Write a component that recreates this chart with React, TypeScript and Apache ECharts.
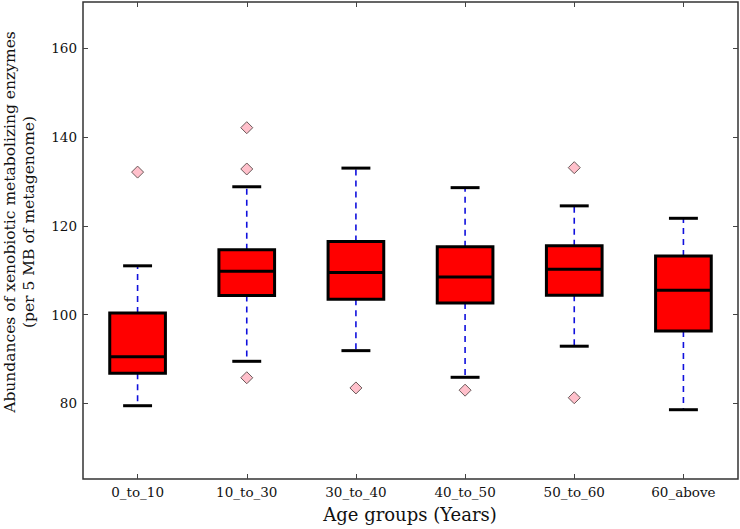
import React, { useEffect, useRef } from "react";
import * as echarts from "echarts";

const categories = ["0_to_10", "10_to_30", "30_to_40", "40_to_50", "50_to_60", "60_above"];
const lowerWhisker = [79.5, 89.5, 91.9, 85.9, 92.9, 78.6];
const q1 = [86.8, 104.3, 103.5, 102.6, 104.4, 96.3];
const median = [90.5, 109.8, 109.5, 108.5, 110.2, 105.5];
const q3 = [100.4, 114.6, 116.5, 115.3, 115.5, 113.2];
const upperWhisker = [111.0, 128.8, 133.0, 128.6, 124.5, 121.7];
const outlierGroup = [0, 1, 1, 1, 2, 3, 4, 4];
const outlierValue = [132.1, 142.1, 132.8, 85.8, 83.5, 83.0, 133.1, 81.3];
const yTicks = [80, 100, 120, 140, 160];
const yMin = 63;
const yMax = 170.4;

const FONT = "'DejaVu Serif', serif";

export default function App() {
  const ref = useRef<HTMLDivElement>(null);
  useEffect(() => {
    if (!ref.current) return;
    document.body.style.margin = "0";
    const chart = echarts.init(ref.current, null, { renderer: "svg" });
    const boxData = categories.map((_, i) => [i, lowerWhisker[i], q1[i], median[i], q3[i], upperWhisker[i]]);
    const outliers = outlierGroup.map((g, i) => [g, outlierValue[i]]);
    const tickStyle = { show: true, inside: true, length: 5, lineStyle: { color: "#444", width: 1 } };
    chart.setOption({
      animation: false,
      backgroundColor: "#ffffff",
      grid: { left: 83, right: 2, top: 2, bottom: 50, show: true, borderColor: "#333", borderWidth: 1.5, backgroundColor: "transparent" },
      xAxis: [
        {
          type: "category",
          data: categories,
          position: "bottom",
          axisLine: { show: false },
          axisTick: { ...tickStyle, alignWithLabel: true, interval: 0 },
          axisLabel: { interval: 0, margin: 6, fontFamily: FONT, fontSize: 13.5, color: "#111" },
          splitLine: { show: false },
        },
        {
          type: "category",
          data: categories,
          position: "top",
          axisLine: { show: false },
          axisTick: { ...tickStyle, alignWithLabel: true, interval: 0 },
          axisLabel: { show: false },
          splitLine: { show: false },
        },
      ],
      yAxis: [
        {
          type: "value",
          min: yMin,
          max: yMax,
          position: "left",
          axisLine: { show: false },
          axisTick: { ...tickStyle, customValues: yTicks },
          axisLabel: { customValues: yTicks, margin: 6, fontFamily: FONT, fontSize: 13.5, color: "#111" },
          splitLine: { show: false },
        },
        {
          type: "value",
          min: yMin,
          max: yMax,
          position: "right",
          axisLine: { show: false },
          axisTick: { ...tickStyle, customValues: yTicks },
          axisLabel: { show: false },
          splitLine: { show: false },
        },
      ],
      graphic: [
        {
          type: "text",
          x: 10,
          y: 222,
          rotation: Math.PI / 2,
          style: {
            text: "Abundances of xenobiotic metabolizing enzymes",
            font: `15.5px ${FONT}`,
            fill: "#111",
            align: "center",
            verticalAlign: "middle",
          },
        },
        {
          type: "text",
          x: 29,
          y: 222,
          rotation: Math.PI / 2,
          style: {
            text: "(per 5 MB of metagenome)",
            font: `15.5px ${FONT}`,
            fill: "#111",
            align: "center",
            verticalAlign: "middle",
          },
        },
        {
          type: "text",
          x: 410,
          y: 514,
          style: {
            text: "Age groups (Years)",
            font: `18px ${FONT}`,
            fill: "#111",
            align: "center",
            verticalAlign: "middle",
          },
        },
      ],
      series: [
        {
          type: "custom",
          xAxisIndex: 0,
          yAxisIndex: 0,
          data: boxData,
          encode: { x: 0, y: [1, 2, 3, 4, 5] },
          renderItem: (params: any, api: any) => {
            const idx = api.value(0);
            const band = api.size([1, 0])[0];
            const cx = api.coord([idx, 0])[0];
            const yLow = api.coord([idx, api.value(1)])[1];
            const yQ1 = api.coord([idx, api.value(2)])[1];
            const yMed = api.coord([idx, api.value(3)])[1];
            const yQ3 = api.coord([idx, api.value(4)])[1];
            const yHigh = api.coord([idx, api.value(5)])[1];
            const bw = band * 0.51;
            const cw = band * 0.265;
            const dash = { stroke: "#1010dd", lineWidth: 1.6, lineDash: [6, 5] };
            const solid = { stroke: "#000", lineWidth: 3 };
            return {
              type: "group",
              children: [
                { type: "line", shape: { x1: cx, y1: yQ1, x2: cx, y2: yLow }, style: dash },
                { type: "line", shape: { x1: cx, y1: yQ3, x2: cx, y2: yHigh }, style: dash },
                { type: "line", shape: { x1: cx - cw / 2, y1: yLow, x2: cx + cw / 2, y2: yLow }, style: solid },
                { type: "line", shape: { x1: cx - cw / 2, y1: yHigh, x2: cx + cw / 2, y2: yHigh }, style: solid },
                {
                  type: "rect",
                  shape: { x: cx - bw / 2, y: yQ3, width: bw, height: yQ1 - yQ3 },
                  style: { fill: "#ff0000", stroke: "#000", lineWidth: 3 },
                },
                { type: "line", shape: { x1: cx - bw / 2, y1: yMed, x2: cx + bw / 2, y2: yMed }, style: solid },
              ],
            };
          },
        },
        {
          type: "scatter",
          xAxisIndex: 0,
          yAxisIndex: 0,
          data: outliers,
          symbol: "diamond",
          symbolSize: 12,
          itemStyle: { color: "#ffc0cb", borderColor: "#6a5a5a", borderWidth: 1, opacity: 1 },
        },
      ],
    });
    return () => chart.dispose();
  }, []);
  return <div ref={ref} style={{ width: 740, height: 529 }} />;
}
